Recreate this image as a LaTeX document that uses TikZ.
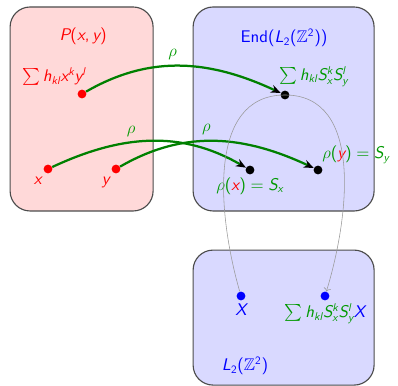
\documentclass[tikz,border=0pt]{standalone}
\usepackage{amsmath,amssymb}
\usepackage[no-math]{fontspec}
\usepackage{tikz}
\usetikzlibrary{positioning}
\usetikzlibrary{arrows.meta}
\colorlet{repgreen}{green!50!black}
\colorlet{textgreen}{green!60!black}
% sans serif math, as on slides
\newfontfamily\mathsansfont{lmsans10}[Extension=.otf, UprightFont=*-regular, ItalicFont=*-oblique, NFSSFamily=mathsans]
\DeclareSymbolFont{operators}{TU}{mathsans}{m}{n}
\DeclareSymbolFont{letters}{TU}{mathsans}{m}{it}
\DeclareMathSymbol{,}{\mathpunct}{operators}{"2C}
\DeclareSymbolFont{greekletters}{OML}{cmm}{m}{it}
\DeclareMathSymbol{\rho}{\mathord}{greekletters}{"1A}

\begin{document}
\begin{tikzpicture}[
    font=\sffamily\large,
    space/.style={rectangle, draw=black!70, thick, rounded corners=0.5cm},
    dot/.style={circle, fill, inner sep=0pt, minimum size=0.22cm},
    rep/.style={-{Stealth[black, length=0.25cm, width=0.2cm]}, line width=1.6pt, repgreen},
    action/.style={->, gray!80, thin}
]
    \useasboundingbox (0,0) rectangle (9.95,9.65);

    % Three spaces
    \node[space, fill=red!15, minimum width=3.575cm, minimum height=5.1cm] (poly) at (2.04,6.925) {};
    \node[red] (polylbl) at (2.08,8.75) {$P(x,y)$};

    \node[space, fill=blue!15, minimum width=4.525cm, minimum height=5.1cm] (endo) at (7.09,6.925) {};
    \node[blue] (endolbl) at (7.1,8.7) {$\mathrm{End}(L_2(\mathbb{Z}^2))$};

    \node[space, fill=blue!15, minimum width=4.525cm, minimum height=3.375cm] (hilb) at (7.09,1.71) {};
    \node[blue] (hilblbl) at (6.125,0.5) {$L_2(\mathbb{Z}^2)$};

    % Points of P(x,y)
    \node[dot, red] (sumdot) at (2.05,7.3) {};
    \node[red, above left=0cm and -0.3cm of sumdot] (sumlbl) {$\sum h_{kl}x^ky^l$};
    \node[dot, red] (xdot) at (1.2,5.425) {};
    \node[red, below left=0cm and -0.05cm of xdot] (xlbl) {$x$};
    \node[dot, red] (ydot) at (2.9,5.425) {};
    \node[red, below left=0cm and -0.05cm of ydot] (ylbl) {$y$};

    % Operators
    \node[dot] (opdot) at (7.125,7.275) {};
    \node[textgreen, above right=0cm and -0.35cm of opdot] (oplbl) {$\sum h_{kl}S_x^kS_y^l$};
    \node[dot] (sxdot) at (6.25,5.4) {};
    \node[textgreen, below=-0.05cm of sxdot] (sxlbl) {$\rho(\textcolor{red}{x}) = S_x$};
    \node[dot] (sydot) at (7.95,5.4) {};
    \node[textgreen, above right=-0.05cm and -0.1cm of sydot] (sylbl) {$\rho(\textcolor{red}{y}) = S_y$};

    % Vectors
    \node[dot, blue] (vecdot) at (6.025,2.25) {};
    \node[blue, below=-0.05cm of vecdot] (veclbl) {$X$};
    \node[dot, blue] (imgdot) at (8.125,2.25) {};
    \node[textgreen, below=-0.05cm of imgdot] (imglbl) {$\sum h_{kl}S_x^kS_y^l\textcolor{blue}{X}$};

    % Representation
    \draw[rep] (sumdot) to[out=30, in=155] node[pos=0.45, above, textgreen] (rho1) {$\rho$} (opdot);
    \draw[rep] (xdot) to[out=25, in=150] node[pos=0.4, above, textgreen] (rho2) {$\rho$} (sxdot);
    \draw[rep] (ydot) to[out=30, in=155] node[pos=0.45, above, textgreen] (rho3) {$\rho$} (sydot);

    % Action on X
    \draw[action] (vecdot) to[out=106, in=180] (opdot.center) to[out=0, in=73] (imgdot);
\end{tikzpicture}
\end{document}
